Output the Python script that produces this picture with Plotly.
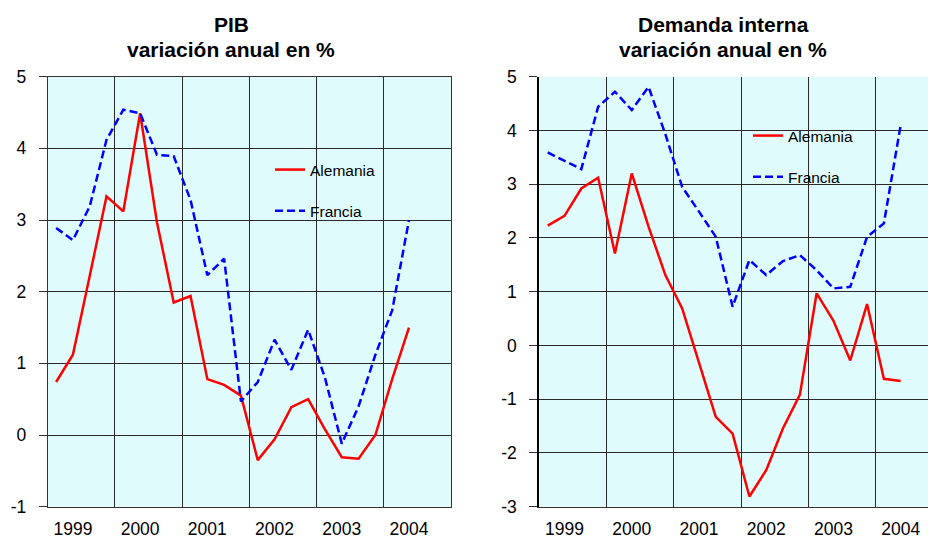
import numpy as np
import plotly.graph_objects as go

# Trimestres 1999 T1 .. 2004 T2
anios = ["1999", "2000", "2001", "2002", "2003", "2004"]
trimestres = [f"{a} T{q}" for a in anios for q in range(1, 5)][:22]

# PIB, variación anual en %
pib_alemania = [0.74, 1.12, 2.22, 3.33, 3.12, 4.49, 2.97, 1.85, 1.94, 0.78, 0.70, 0.55,
                -0.35, -0.06, 0.39, 0.50, 0.08, -0.31, -0.33, 0.00, 0.78, 1.50]
pib_francia = [2.89, 2.72, 3.19, 4.12, 4.54, 4.49, 3.91, 3.89, 3.28, 2.23, 2.46, 0.47,
               0.74, 1.33, 0.91, 1.47, 0.80, -0.12, 0.40, 1.12, 1.74, 3.00]

# Demanda interna, variación anual en %
dem_alemania = [2.23, 2.41, 2.92, 3.12, 1.71, 3.20, 2.21, 1.31, 0.69, -0.33, -1.33, -1.64,
                -2.81, -2.32, -1.54, -0.92, 0.97, 0.46, -0.28, 0.77, -0.62, -0.66]
dem_francia = [3.59, 3.43, 3.28, 4.44, 4.72, 4.38, 4.81, 3.93, 2.95, 2.49, 2.02, 0.72,
               1.59, 1.31, 1.57, 1.68, 1.40, 1.06, 1.09, 2.02, 2.27, 4.10]

pib_ticks = [-1, 0, 1, 2, 3, 4, 5]
dem_ticks = [-3, -2, -1, 0, 1, 2, 3, 4, 5]

x = np.arange(len(trimestres))
W, H = 928, 539
FONT = "Liberation Sans, Arial, sans-serif"
ROJO, AZUL = "#FF0000", "#0000FF"
FONDO = "#E0FBFB"
GRID = "#2a2a2a"


def px_x(p):
    return p / W


def px_y(p):
    return 1 - p / H


fig = go.Figure()


def add_series(xa, ya, alem, fran, leg):
    fig.add_trace(go.Scatter(x=x, y=alem, mode="lines", name="Alemania",
                             line=dict(color=ROJO, width=2.5),
                             xaxis=xa, yaxis=ya, legend=leg, legendgroup=leg + "a"))
    fig.add_trace(go.Scatter(x=x, y=fran, mode="lines", name="Francia",
                             line=dict(color=AZUL, width=2.5, dash="8px,4px"),
                             xaxis=xa, yaxis=ya, legend=leg, legendgroup=leg + "f"))


add_series("x", "y", pib_alemania, pib_francia, "legend")
add_series("x2", "y2", dem_alemania, dem_francia, "legend2")

ydom = [px_y(506.7), px_y(76.7)]
q = 403.4 / 24  # px por trimestre
fin_der = -0.5 + (W - 539.3) / q  # el panel derecho queda cortado en el borde

tickvals = [1 + 4 * i for i in range(len(anios))]
bordes = [-0.5 + 4 * i for i in range(len(anios) + 1)]

xcommon = dict(tickmode="array", tickvals=tickvals, ticktext=anios, showgrid=False,
               ticks="", ticklabelstandoff=6, zeroline=False, automargin=False,
               tickfont=dict(family=FONT, size=17.5, color="#000"),
               minor=dict(tickmode="array", tickvals=bordes, showgrid=True,
                          gridcolor=GRID, gridwidth=1, ticks=""))
ycommon = dict(showgrid=True, gridcolor=GRID, gridwidth=1, zeroline=False,
               ticks="outside", ticklen=8, tickcolor="#333", ticklabelstandoff=9,
               automargin=False, tickfont=dict(family=FONT, size=17.5, color="#000"))

fig.update_layout(
    width=W, height=H, margin=dict(l=0, r=0, t=0, b=0),
    paper_bgcolor="white", plot_bgcolor=FONDO, showlegend=True,
    xaxis=dict(domain=[px_x(47.7), px_x(451)], range=[-0.5, 23.5], anchor="y",
               showline=True, mirror=True, linecolor="#333", linewidth=1, **xcommon),
    yaxis=dict(domain=ydom, range=[-1, 5], anchor="x",
               tickmode="array", tickvals=pib_ticks, ticktext=[str(v) for v in pib_ticks],
               showline=True, mirror=True, linecolor="#333", linewidth=1, **ycommon),
    xaxis2=dict(domain=[px_x(539.3), 1.0], range=[-0.5, fin_der], anchor="y2",
                showline=True, linecolor="#333", linewidth=1, **xcommon),
    yaxis2=dict(domain=ydom, range=[-3, 5], anchor="x2",
                tickmode="array", tickvals=dem_ticks, ticktext=[str(v) for v in dem_ticks],
                showline=True, linecolor="#000", linewidth=2, **ycommon),
    legend=dict(x=px_x(270), y=px_y(153), xanchor="left", yanchor="top",
                bgcolor="rgba(0,0,0,0)", tracegroupgap=18,
                font=dict(family=FONT, size=15.5, color="#000")),
    legend2=dict(x=px_x(748), y=px_y(119), xanchor="left", yanchor="top",
                 bgcolor="rgba(0,0,0,0)", tracegroupgap=18,
                 font=dict(family=FONT, size=15.5, color="#000")),
)

titulos = [(231, "PIB"), (723, "Demanda interna")]
for cx, t in titulos:
    for ty, txt in [(24.5, t), (49.5, "variación anual en %")]:
        fig.add_annotation(x=px_x(cx), y=px_y(ty), xref="paper", yref="paper",
                           text=f"<b>{txt}</b>", showarrow=False,
                           xanchor="center", yanchor="middle",
                           font=dict(family=FONT, size=21, color="#000"))

# sin margen en el body para que la figura ocupe toda la ventana
fig.write_html("out.html", config={"displayModeBar": False},
               post_script="document.body.style.margin='0';document.body.style.overflow='hidden';")
